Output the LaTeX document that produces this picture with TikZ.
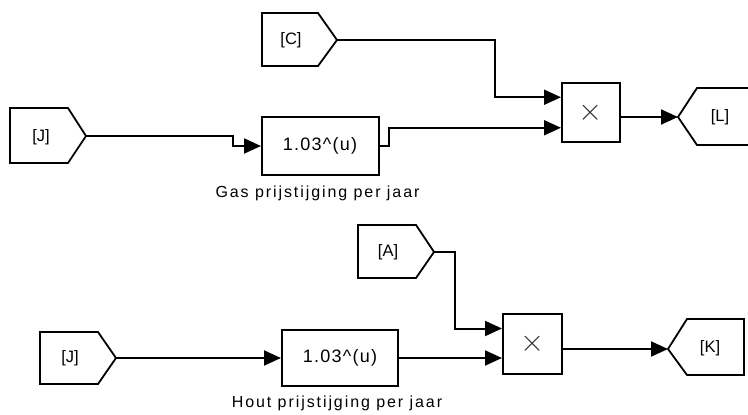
\RequirePackage{fix-cm}
\documentclass[tikz,border=0pt]{standalone}
\usepackage{fontspec}
\setmainfont{Liberation Sans}
\usetikzlibrary{arrows.meta,calc}
\begin{document}
\begin{tikzpicture}[x=1pt,y=-1pt,line width=2pt,
  wire/.style={draw,line width=2pt,-{Triangle[length=17pt,width=15pt]}},
  blk/.style={draw,line width=2pt,inner sep=0pt},
  tagshape/.style={draw,line width=1.8pt},
  tagtext/.style={inner sep=0pt,font=\fontsize{16.5}{16.5}\selectfont},
  fntext/.style={inner sep=0pt,font=\fontsize{18}{18}\selectfont\addfontfeature{LetterSpace=7}},
  lbltext/.style={inner sep=0pt,anchor=base,font=\fontsize{16}{16}\selectfont\addfontfeature{LetterSpace=12}},
  prodtext/.style={inner sep=0pt,text=black!80,font=\fontsize{31}{31}\selectfont}]
\useasboundingbox (0,0) rectangle (748,415);

% ---------- top part ----------
% From [C]
\draw[tagshape] (262,13) -- (318,13) -- (337,40) -- (318,66) -- (262,66) -- cycle;
\coordinate (Ctip) at (337,40);
\node[tagtext] (Ctxt) at (291,40) {[C]};
% From [J] (top)
\draw[tagshape] (10,108) -- (68,108) -- (86,136) -- (68,163) -- (10,163) -- cycle;
\coordinate (J1tip) at (86,136);
\node[tagtext] (J1txt) at (41,137) {[J]};
% Fcn block
\node[blk,minimum width=117pt,minimum height=58pt] (G1) at (320.5,146) {};
\node[fntext] (G1txt) at (320,146) {1.03\textasciicircum(u)};
\node[lbltext] (G1lbl) at (317.5,197) {Gas prijstijging per jaar};
% Product
\node[blk,minimum width=58pt,minimum height=59pt] (P1) at (591,112.5) {};
\node[prodtext] (P1txt) at (591,112.5) {$\times$};
\coordinate (P1in1) at ($(P1.north west)!0.25!(P1.south west)$);
\coordinate (P1in2) at ($(P1.north west)!0.75!(P1.south west)$);
% Goto [L]
\draw[tagshape] (755,88) -- (697,88) -- (678,117) -- (697,145) -- (755,145) -- cycle;
\coordinate (Ltip) at (678,117);
\node[tagtext] (Ltxt) at (720,117) {[L]};

\draw[wire] (J1tip) -- ++(147,0) |- (G1.west);
\draw[wire] (G1.east) -- ++(9,0) |- (P1in2);
\draw[wire] (Ctip) -- ++(158,0) |- (P1in1);
\draw[wire] (P1.east |- Ltip) -- (Ltip);

% ---------- bottom part ----------
% From [A]
\draw[tagshape] (358,225) -- (416,225) -- (434,252) -- (416,278) -- (358,278) -- cycle;
\coordinate (Atip) at (434,252);
\node[tagtext] (Atxt) at (388,252) {[A]};
% From [J] (bottom)
\draw[tagshape] (40,332) -- (98,332) -- (116,358) -- (98,384) -- (40,384) -- cycle;
\coordinate (J2tip) at (116,358);
\node[tagtext] (J2txt) at (70,358) {[J]};
% Fcn block
\node[blk,minimum width=116pt,minimum height=56pt] (H1) at (340,358) {};
\node[fntext] (H1txt) at (340,358) {1.03\textasciicircum(u)};
\node[lbltext] (H1lbl) at (337,407) {Hout prijstijging per jaar};
% Product
\node[blk,minimum width=59pt,minimum height=60pt] (P2) at (532.5,344) {};
\node[prodtext] (P2txt) at (532.5,344) {$\times$};
\coordinate (P2in1) at ($(P2.north west)!0.25!(P2.south west)$);
% Goto [K]
\draw[tagshape] (744,319) -- (687,319) -- (668,349) -- (687,375) -- (744,375) -- cycle;
\coordinate (Ktip) at (668,349);
\node[tagtext] (Ktxt) at (710,348) {[K]};

\draw[wire] (Atip) -- ++(21,0) |- (P2in1);
\draw[wire] (J2tip) -- (H1.west);
\draw[wire] (H1.east) -- (H1.east -| P2.west);
\draw[wire] (P2.east |- Ktip) -- (Ktip);
\end{tikzpicture}
\end{document}
